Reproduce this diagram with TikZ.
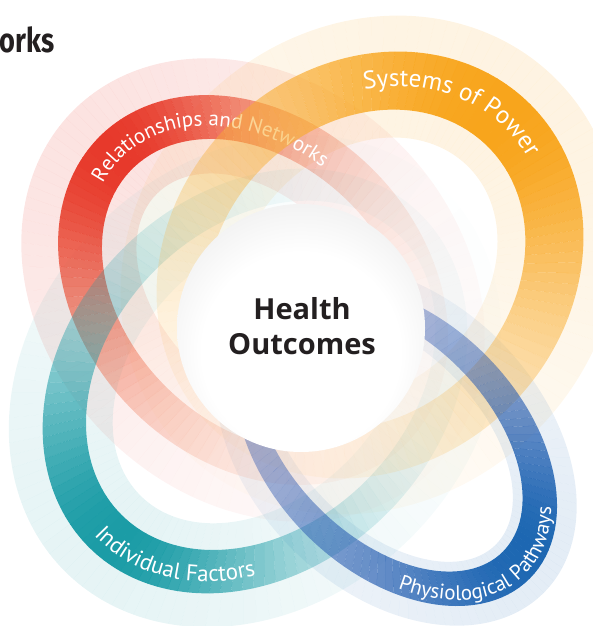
\documentclass[tikz,border=0pt]{standalone}
\usepackage{fontspec}
\setmainfont{Open Sans}
\newfontfamily\headfont{Fira Sans}
\newfontfamily\lblfont{PT Sans}
\usetikzlibrary{decorations.text}
\definecolor{redA}{HTML}{E7392B}
\definecolor{redZ}{HTML}{F07A4A}
\definecolor{orA}{HTML}{F8A51C}
\definecolor{orZ}{HTML}{F9B544}
\definecolor{teA}{HTML}{1B9CA6}
\definecolor{blA}{HTML}{1D67B2}
\definecolor{blZ}{HTML}{3B4DB0}
\definecolor{ink}{HTML}{231F20}
\pgfdeclareradialshading{ballshade}{\pgfpoint{0bp}{-8bp}}{color(0bp)=(white); color(20bp)=(white); color(34bp)=(black!8); color(45bp)=(black!20); color(50bp)=(black!30)}
% segmented ring: opacity peaks at parameter \tp and falls off along the ring
% uses \Ao \Bo \Ai \Bi \ee \tp \wp \wm \wf \lo \maxop \cA \cZ and style curring
\newcommand\segring{%
  \foreach \t in {0,3,...,357}{%
    \pgfmathsetmacro\tm{\t+1.5}%
    \pgfmathsetmacro\dd{mod(\tm-\tp+540,360)-180}%
    \pgfmathsetmacro\ww{\wf*ifthenelse(\dd>0,\wp,\wm)}%
    \pgfmathsetmacro\lv{\lo+(1-\lo)*exp(-(\dd/\ww)^2)}%
    \pgfmathsetmacro\op{\maxop*\lv}%
    \pgfmathsetmacro\mixp{100*\lv}%
    \pgfmathsetmacro\tn{\t+3+0.2*(\op)^6}%
    \pgfmathsetmacro\xa{-\ee+\Ai*cos(\tn)}%
    \pgfmathsetmacro\ya{\Bi*sin(\tn)}%
    \fill[\cA!\mixp!\cZ, fill opacity=\op, curring] (\t:\Ao pt and \Bo pt) arc[start angle=\t, end angle=\tn, x radius=\Ao pt, y radius=\Bo pt] -- (\xa pt,\ya pt) arc[start angle=\tn, end angle=\t, x radius=\Ai pt, y radius=\Bi pt] -- cycle;
  }}
\newcommand\redparams{\def\ee{6}\def\tp{0}\def\wp{80}\def\wm{68}\def\lo{0.03}\def\wf{1}\def\cA{redA}\def\cZ{redZ}\tikzset{curring/.style={ringR}}}
\newcommand\orparams{\def\ee{6}\def\tp{5}\def\wp{95}\def\wm{85}\def\lo{0.03}\def\wf{1}\def\cA{orA}\def\cZ{orZ}\tikzset{curring/.style={ringO}}}
\newcommand\teparams{\def\ee{8}\def\tp{5}\def\wp{58}\def\wm{72}\def\lo{0.03}\def\wf{1}\def\cA{teA}\def\cZ{teA}\tikzset{curring/.style={ringT}}}
\newcommand\blparams{\def\ee{10}\def\tp{10}\def\wp{70}\def\wm{92}\def\lo{0.3}\def\wf{1}\def\cA{blA}\def\cZ{blZ}\tikzset{curring/.style={ringB}}}
\begin{document}
\begin{tikzpicture}[x=1pt,y=1pt,
  ringR/.style={shift={(253,336)}, rotate=135},
  ringO/.style={shift={(370,361)}, rotate=45},
  ringT/.style={shift={(255,245)}, rotate=225},
  ringB/.style={shift={(396,181)}, rotate=-45},
  lbl/.style={decorate, decoration={text along path, text align=center, text={#1}}}
]
\useasboundingbox (0,0) rectangle (593,626);
\clip (0,0) rectangle (593,626);
% halos
\begin{scope}\redparams\def\wf{1.4}\def\maxop{0.14}\def\cZ{redA}\def\Ao{254}\def\Bo{207}\def\Ai{142}\def\Bi{95}\segring\end{scope}
\begin{scope}\orparams\def\wf{1.4}\def\maxop{0.13}\def\cZ{orA}\def\Ao{263}\def\Bo{235}\def\Ai{145}\def\Bi{117}\segring\end{scope}
\begin{scope}\teparams\def\wf{1.5}\def\maxop{0.11}\def\Ao{269}\def\Bo{221}\def\Ai{170}\def\Bi{122}\segring\end{scope}
\begin{scope}\blparams\def\wf{1.3}\def\maxop{0.12}\def\cZ{blA}\def\Ao{209}\def\Bo{147}\def\Ai{151}\def\Bi{89}\segring\end{scope}
% red band
\begin{scope}\redparams\def\maxop{1}\def\Ao{217}\def\Bo{170}\def\Ai{177}\def\Bi{130}\segring\end{scope}
\path[ringR, lbl={|\color{white}\lblfont\fontsize{21}{21}\selectfont|Relationships and Networks}] (29:186pt and 139pt) arc[start angle=29, end angle=-91, x radius=186pt, y radius=139pt];
% teal band
\begin{scope}\teparams\def\maxop{1}\def\Ao{235}\def\Bo{187}\def\Ai{197}\def\Bi{149}\segring\end{scope}
\path[ringT, lbl={|\color{white}\lblfont\fontsize{23}{23}\selectfont|Individual Factors}] (-46:223pt and 175pt) arc[start angle=-46, end angle=90, x radius=223pt, y radius=175pt];
% orange band
\begin{scope}\orparams\def\maxop{1}\def\Ao{227}\def\Bo{199}\def\Ai{173}\def\Bi{145}\segring\end{scope}
\path[ringO, lbl={|\color{white}\lblfont\fontsize{25}{25}\selectfont|Systems of Power}] (80:192pt and 164pt) arc[start angle=80, end angle=-44, x radius=192pt, y radius=164pt];
% blue band
\begin{scope}\blparams\def\maxop{1}\def\Ao{189}\def\Bo{127}\def\Ai{161}\def\Bi{99}\segring\end{scope}
\path[ringB, lbl={|\color{white}\lblfont\fontsize{21}{21}\selectfont|Physiological Pathways}] (-78:183pt and 121pt) arc[start angle=-78, end angle=58, x radius=183pt, y radius=121pt];
% hub
\node[circle, minimum size=248pt, inner sep=0pt, shading=ballshade] (hub) at (301,298) {};
\node[anchor=base, text=ink, font=\bfseries\fontsize{29}{35}\selectfont] (hline1) at (302,306) {Health};
\node[anchor=base, text=ink, font=\bfseries\fontsize{29}{35}\selectfont] (hline2) at (302,271) {Outcomes};
\node[anchor=base east, inner sep=0pt, text=ink, font=\headfont\bfseries\fontsize{34}{34}\selectfont] (frag) at (55,573) {\scalebox{0.8}[1]{orks}};
\end{tikzpicture}
\end{document}
